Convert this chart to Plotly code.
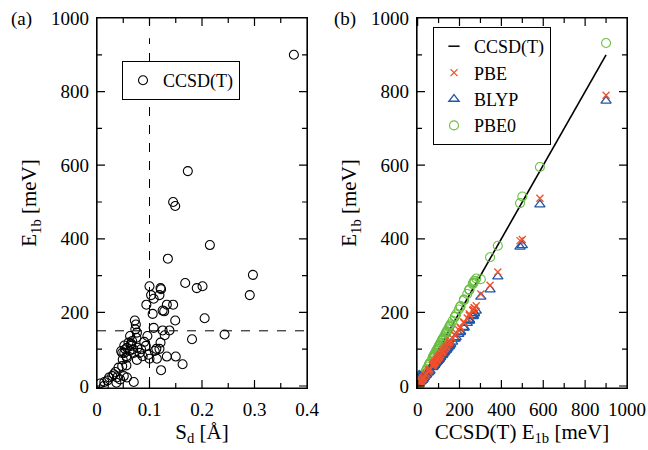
import plotly.graph_objects as go

# ---------------- data ----------------
sd = [0.375, 0.173, 0.145, 0.149, 0.215, 0.135, 0.297, 0.291, 0.168, 0.201,
      0.190, 0.100, 0.121, 0.122, 0.103, 0.119, 0.108, 0.094, 0.133, 0.145,
      0.125, 0.128, 0.106, 0.205, 0.149, 0.072, 0.074, 0.108, 0.125, 0.138,
      0.243, 0.181, 0.096, 0.129, 0.121, 0.113, 0.119, 0.093, 0.150, 0.133,
      0.163, 0.122, 0.100, 0.114, 0.087, 0.076, 0.070, 0.063, 0.067, 0.065,
      0.069, 0.070, 0.060, 0.057, 0.062, 0.054, 0.052, 0.056, 0.048, 0.049,
      0.057, 0.065, 0.075, 0.076, 0.073, 0.077, 0.081, 0.052, 0.046, 0.032,
      0.029, 0.035, 0.041, 0.048, 0.056, 0.038, 0.044, 0.051, 0.057, 0.037,
      0.023, 0.014, 0.006, 0.013, 0.020, 0.090, 0.084, 0.110, 0.098]

ccsd = [900, 584, 500, 489, 383, 346, 302, 247, 280, 271,
        266, 271, 266, 263, 247, 247, 237, 221, 221, 221,
        205, 203, 196, 184, 178, 178, 167, 158, 151, 151,
        140, 127, 136, 138, 118, 101, 101, 109, 80, 80,
        59, 43, 74, 74, 81, 71, 11, 136, 122, 109,
        100, 90, 118, 104, 95, 100, 90, 81, 90, 72,
        77, 115, 131, 145, 154, 104, 90, 110, 95, 32,
        27, 38, 50, 54, 56, 23, 18, 27, 23, 9,
        23, 11, 7, 0, 15, 120, 100, 95, 85]

pbe0 = [932, 595, 515, 497, 381, 350, 290, 262, 292, 285,
        281, 286, 280, 277, 261, 262, 250, 234, 233, 235,
        217, 215, 208, 195, 189, 188, 177, 168, 161, 160,
        149, 135, 145, 147, 126, 108, 107, 116, 86, 85,
        64, 47, 79, 80, 87, 76, 10, 144, 130, 117,
        107, 96, 125, 111, 101, 106, 97, 86, 95, 77,
        82, 123, 140, 154, 164, 110, 96, 117, 100, 33,
        29, 40, 53, 58, 60, 24, 19, 28, 25, 6,
        24, 8, -5, -12, 15, 128, 106, 101, 91]

pbe = [790, 510, 398, 395, 310, 274, 250, 196, 218, 212,
       208, 213, 206, 205, 193, 192, 185, 173, 172, 174,
       160, 158, 153, 144, 139, 138, 130, 123, 118, 117,
       109, 99, 106, 108, 92, 79, 78, 85, 62, 63,
       46, 34, 58, 57, 63, 55, 9, 106, 95, 85,
       78, 70, 92, 81, 74, 78, 70, 63, 70, 56,
       60, 90, 102, 113, 120, 81, 71, 86, 74, 26,
       21, 30, 39, 42, 44, 18, 15, 22, 18, 10,
       19, 12, 10, 5, 13, 94, 78, 74, 66]

blyp = [775, 493, 382, 378, 297, 262, 242, 180, 204, 197,
        192, 198, 190, 189, 178, 177, 171, 159, 160, 158,
        148, 146, 141, 132, 128, 129, 120, 114, 109, 108,
        101, 91, 98, 99, 85, 73, 72, 78, 57, 58,
        42, 31, 53, 54, 58, 51, 12, 98, 88, 79,
        72, 65, 85, 75, 68, 72, 65, 58, 65, 52,
        55, 83, 94, 104, 111, 75, 64, 79, 69, 24,
        20, 28, 36, 39, 40, 17, 14, 20, 17, 22,
        18, 28, 30, 20, 12, 86, 72, 69, 61]

sd_threshold = [0.1, 0.1]
sd_threshold_y = [0, 945]
e_threshold = [150, 150]
e_threshold_x = [0, 0.4]

# tick positions
sd_major = [0, 0.1, 0.2, 0.3, 0.4]
sd_minor = [0.05, 0.15, 0.25, 0.35]
e_major = [0, 200, 400, 600, 800, 1000]
e_minor = [100, 300, 500, 700, 900]

# ---------------- layout geometry ----------------
W, H = 648, 450
PX_A = (97, 307)     # panel (a) plot area, px
PX_B = (417, 627)    # panel (b) plot area, px
PY = (18, 388)       # plot area top / bottom, px
XR_A = [0, 0.4]
XR_B = [-3, 1000]
YR = [-5.4, 1000]

FONT = "Liberation Serif, Times New Roman, serif"
GREEN = "#6cbf45"
RED = "#f0502a"
BLUE = "#1f56a6"

fig = go.Figure()

# Panel (a)
fig.add_trace(go.Scatter(x=sd, y=ccsd, mode="markers", name="CCSD(T)",
                         marker=dict(symbol="circle-open", size=9, color="black",
                                     line=dict(width=1.1, color="black")),
                         xaxis="x", yaxis="y", legend="legend"))
fig.add_trace(go.Scatter(x=sd_threshold, y=sd_threshold_y, mode="lines",
                         line=dict(color="black", width=1, dash="dash"),
                         showlegend=False, xaxis="x", yaxis="y"))
fig.add_trace(go.Scatter(x=e_threshold_x, y=e_threshold, mode="lines",
                         line=dict(color="black", width=1, dash="dash"),
                         showlegend=False, xaxis="x", yaxis="y"))

# Panel (b)
diag = sorted(ccsd)
fig.add_trace(go.Scatter(x=diag, y=diag, mode="lines", showlegend=False,
                         line=dict(color="black", width=1.6),
                         xaxis="x2", yaxis="y2"))
# legend key for the CCSD(T) reference line: a short dash placed on the line's origin
fig.add_trace(go.Scatter(x=diag[:1], y=diag[:1], mode="markers", name="CCSD(T)",
                         marker=dict(symbol="line-ew-open", size=8, color="black",
                                     line=dict(width=1.5, color="black")),
                         xaxis="x2", yaxis="y2", legend="legend2", legendrank=1))
fig.add_trace(go.Scatter(x=ccsd, y=pbe0, mode="markers", name="PBE0",
                         marker=dict(symbol="circle-open", size=9, color=GREEN,
                                     line=dict(width=1.1, color=GREEN)),
                         xaxis="x2", yaxis="y2", legend="legend2", legendrank=4))
fig.add_trace(go.Scatter(x=ccsd, y=blyp, mode="markers", name="BLYP",
                         marker=dict(symbol="triangle-up-open", size=9, color=BLUE,
                                     line=dict(width=1.3, color=BLUE)),
                         xaxis="x2", yaxis="y2", legend="legend2", legendrank=3))
fig.add_trace(go.Scatter(x=ccsd, y=pbe, mode="markers", name="PBE",
                         marker=dict(symbol="x-thin-open", size=7, color=RED,
                                     line=dict(width=1.3, color=RED)),
                         xaxis="x2", yaxis="y2", legend="legend2", legendrank=2))


# Axis frame with inward tick marks on all four sides, traced as one
# continuous polyline (axis decoration; tick lengths given in px).
def frame_trace(xa, ya, xr, px_x, xmaj, xmin, ymaj, ymin):
    ux = (xr[1] - xr[0]) / (px_x[1] - px_x[0])     # data units per px (x)
    uy = (YR[1] - YR[0]) / (PY[1] - PY[0])         # data units per px (y)
    xt = sorted([(v, 8) for v in xmaj] + [(v, 5) for v in xmin])
    yt = sorted([(v, 8) for v in ymaj] + [(v, 5) for v in ymin])
    xs, ys = [xr[0]], [YR[0]]
    # bottom edge, left -> right
    for v, ln in xt:
        xs += [v, v, v]
        ys += [YR[0], YR[0] + ln * uy, YR[0]]
    xs.append(xr[1]); ys.append(YR[0])
    # right edge, bottom -> top
    for v, ln in yt:
        xs += [xr[1], xr[1] - ln * ux, xr[1]]
        ys += [v, v, v]
    xs.append(xr[1]); ys.append(YR[1])
    # top edge, right -> left
    for v, ln in reversed(xt):
        xs += [v, v, v]
        ys += [YR[1], YR[1] - ln * uy, YR[1]]
    xs.append(xr[0]); ys.append(YR[1])
    # left edge, top -> bottom
    for v, ln in reversed(yt):
        xs += [xr[0], xr[0] + ln * ux, xr[0]]
        ys += [v, v, v]
    xs.append(xr[0]); ys.append(YR[0])
    return go.Scatter(x=xs, y=ys, mode="lines", showlegend=False,
                      hoverinfo="none",
                      line=dict(color="black", width=1.2),
                      xaxis=xa, yaxis=ya)


fig.add_trace(frame_trace("x", "y", XR_A, PX_A, sd_major, sd_minor, e_major, e_minor))
fig.add_trace(frame_trace("x2", "y2", XR_B, PX_B, e_major, e_minor, e_major, e_minor))

tickfont = dict(family=FONT, size=19, color="black")
titlefont = dict(family=FONT, size=21, color="black")

XDOM_A = [PX_A[0] / W, PX_A[1] / W]
XDOM_B = [PX_B[0] / W, PX_B[1] / W]
YDOM = [1 - PY[1] / H, 1 - PY[0] / H]


def xax(domain, rng, vals, title, anchor):
    return dict(domain=domain, range=rng, tickmode="array", tickvals=vals,
                ticks="", showline=True, linecolor="black", linewidth=1.3,
                mirror=True, showgrid=False, zeroline=False, tickfont=tickfont,
                automargin=False, ticklabelstandoff=4,
                title=dict(text=title, font=titlefont, standoff=4),
                anchor=anchor)


def yax(domain, anchor):
    return dict(domain=domain, range=YR, tickmode="array",
                tickvals=e_major, ticks="", showline=True, linecolor="black",
                linewidth=1.3, mirror=True, showgrid=False, zeroline=False,
                tickfont=tickfont, automargin=False, ticklabelstandoff=3,
                title=dict(text="E<sub>1b</sub> [meV]", font=titlefont, standoff=8),
                anchor=anchor)


fig.update_layout(
    width=W, height=H,
    margin=dict(l=0, r=0, t=0, b=0),
    paper_bgcolor="white", plot_bgcolor="white",
    font=dict(family=FONT, color="black"),
    xaxis=xax(XDOM_A, XR_A, sd_major, "S<sub>d</sub> [Å]", "y"),
    yaxis=yax(YDOM, "x"),
    xaxis2=xax(XDOM_B, XR_B, e_major, "CCSD(T) E<sub>1b</sub> [meV]", "y2"),
    yaxis2=yax(YDOM, "x2"),
    legend=dict(x=122 / W, y=1 - 61 / H, xanchor="left", yanchor="top",
                bordercolor="black", borderwidth=1, bgcolor="white",
                font=dict(family=FONT, size=18, color="black"),
                itemwidth=30),
    legend2=dict(x=433 / W, y=1 - 27 / H, xanchor="left", yanchor="top",
                 bordercolor="black", borderwidth=1, bgcolor="white",
                 font=dict(family=FONT, size=18, color="black"),
                 itemwidth=30, tracegroupgap=0),
    annotations=[
        dict(text="(a)", x=21 / W, y=1 - 19 / H, xref="paper", yref="paper",
             xanchor="center", yanchor="middle", showarrow=False,
             font=dict(family=FONT, size=19, color="black")),
        dict(text="(b)", x=345 / W, y=1 - 19 / H, xref="paper", yref="paper",
             xanchor="center", yanchor="middle", showarrow=False,
             font=dict(family=FONT, size=19, color="black")),
    ],
)

fig.write_html("out.html",
               config={"displayModeBar": False},
               post_script="document.body.style.margin='0px';"
                           "document.body.style.padding='0px';")
